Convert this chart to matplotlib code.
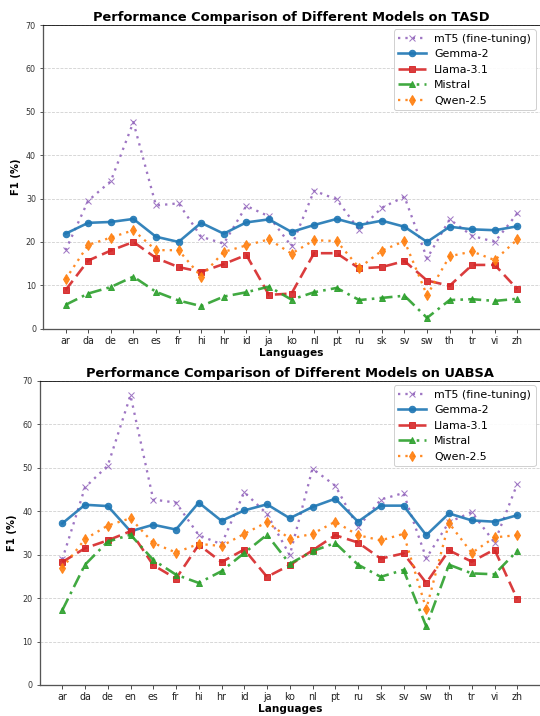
import matplotlib
matplotlib.use("Agg")
import matplotlib.pyplot as plt
import numpy as np

languages = ["ar", "da", "de", "en", "es", "fr", "hi", "hr", "id", "ja", "ko",
             "nl", "pt", "ru", "sk", "sv", "sw", "th", "tr", "vi", "zh"]

models = ["mT5 (fine-tuning)", "Gemma-2", "Llama-3.1", "Mistral", "Qwen-2.5"]

tasd_mt5 = [18.1, 29.5, 34.0, 47.6, 28.4, 28.9, 21.2, 19.6, 28.3, 25.9, 19.0,
            31.8, 29.8, 22.7, 27.9, 30.4, 16.2, 25.2, 21.4, 20.0, 26.6]
tasd_gemma = [21.9, 24.4, 24.6, 25.3, 21.2, 20.0, 24.4, 21.9, 24.5, 25.2, 22.3,
              23.9, 25.3, 23.9, 24.9, 23.5, 20.0, 23.5, 22.9, 22.7, 23.6]
tasd_llama = [8.9, 15.7, 18.0, 20.0, 16.3, 14.2, 13.1, 14.9, 17.0, 7.8, 8.1,
              17.4, 17.4, 13.9, 14.2, 15.6, 11.1, 9.9, 14.7, 14.7, 9.1]
tasd_mistral = [5.5, 8.1, 9.6, 12.0, 8.5, 6.5, 5.2, 7.4, 8.4, 9.7, 6.7,
                8.4, 9.4, 6.6, 7.1, 7.6, 2.5, 6.6, 6.8, 6.4, 6.9]
tasd_qwen = [11.4, 19.3, 21.0, 22.7, 18.1, 18.1, 12.0, 17.7, 19.2, 20.6, 17.3,
             20.4, 20.2, 14.0, 18.0, 20.2, 7.7, 16.7, 17.8, 15.8, 20.6]

uabsa_mt5 = [28.9, 45.5, 50.5, 66.7, 42.7, 42.0, 34.5, 32.4, 44.4, 39.4, 29.9,
             49.8, 45.9, 36.3, 42.7, 44.2, 29.2, 37.5, 39.8, 32.8, 46.3]
uabsa_gemma = [37.2, 41.5, 41.2, 35.4, 36.9, 35.8, 42.0, 37.8, 40.2, 41.6, 38.4,
               41.0, 42.9, 37.6, 41.3, 41.3, 34.5, 39.5, 37.9, 37.6, 39.1]
uabsa_llama = [28.3, 31.5, 33.3, 35.4, 27.6, 24.5, 32.3, 28.3, 31.2, 24.9, 27.6,
               31.0, 34.5, 32.8, 29.1, 30.3, 23.5, 31.0, 28.4, 31.2, 19.8]
uabsa_mistral = [17.2, 27.7, 33.0, 34.6, 28.8, 25.4, 23.5, 26.2, 30.4, 34.6, 27.9,
                 30.8, 32.7, 27.7, 24.9, 26.5, 13.5, 27.7, 25.7, 25.5, 30.9]
uabsa_qwen = [26.9, 33.6, 36.7, 38.4, 32.7, 30.5, 32.5, 32.0, 34.8, 37.5, 33.7,
              34.8, 37.6, 34.5, 33.3, 34.8, 17.5, 37.3, 30.4, 34.0, 34.5]

datasets = ["TASD", "UABSA"]
yticks = [0, 10, 20, 30, 40, 50, 60, 70]

colors = ["#9467bd", "#1f77b4", "#d62728", "#2ca02c", "#ff7f0e"]
markers = ["x", "o", "s", "^", "d"]
linestyles = [(0, (1, 2.2)), "-", (0, (4.5, 2.2)), (0, (5, 2, 1, 2)), (0, (1, 2.2))]
lws = [2.3, 2.6, 2.6, 2.6, 2.3]
msizes = [6, 6.5, 6.5, 6.5, 7]

fig = plt.figure(figsize=(540 / 72, 716 / 72), dpi=72)
ax1 = fig.add_axes([43 / 540, 1 - 328.7 / 716, 497 / 540, (328.7 - 25) / 716])
ax2 = fig.add_axes([39.5 / 540, 1 - 685 / 716, 500.5 / 540, (685 - 381) / 716])

all_data = [
    [tasd_mt5, tasd_gemma, tasd_llama, tasd_mistral, tasd_qwen],
    [uabsa_mt5, uabsa_gemma, uabsa_llama, uabsa_mistral, uabsa_qwen],
]

x = np.arange(len(languages))
for ax, name, series in zip([ax1, ax2], datasets, all_data):
    for i, (label, vals) in enumerate(zip(models, series)):
        ax.plot(x, vals, label=label, color=colors[i], marker=markers[i],
                linestyle=linestyles[i], linewidth=lws[i], markersize=msizes[i],
                alpha=0.9)
    ax.set_title(f"Performance Comparison of Different Models on {name}",
                 fontsize=13, fontweight="bold", pad=4)
    ax.set_xlabel("Languages", fontsize=10.5, fontweight="bold", labelpad=2)
    ax.set_ylabel("F1 (%)", fontsize=10, fontweight="bold", labelpad=5)
    ax.set_xticks(x)
    ax.set_xticklabels(languages, fontsize=9.5)
    ax.set_yticks(yticks)
    ax.set_ylim(0, 70)
    ax.set_xlim(-1, len(languages))
    ax.tick_params(axis="y", labelsize=8, colors="#333333")
    ax.tick_params(axis="x", colors="#222222")
    ax.grid(axis="y", linestyle="--", color="#bbbbbb", alpha=0.7, linewidth=0.8)
    ax.set_axisbelow(True)
    ax.spines["right"].set_visible(False)
    ax.spines["left"].set_color("#555555")
    ax.spines["left"].set_linewidth(1.3)
    ax.spines["bottom"].set_color("#555555")
    ax.spines["bottom"].set_linewidth(1.3)
    ax.legend(loc="upper right", fontsize=11, framealpha=0.9,
              borderaxespad=0.4, handlelength=2.5)

fig.savefig("out.png", dpi=72)
